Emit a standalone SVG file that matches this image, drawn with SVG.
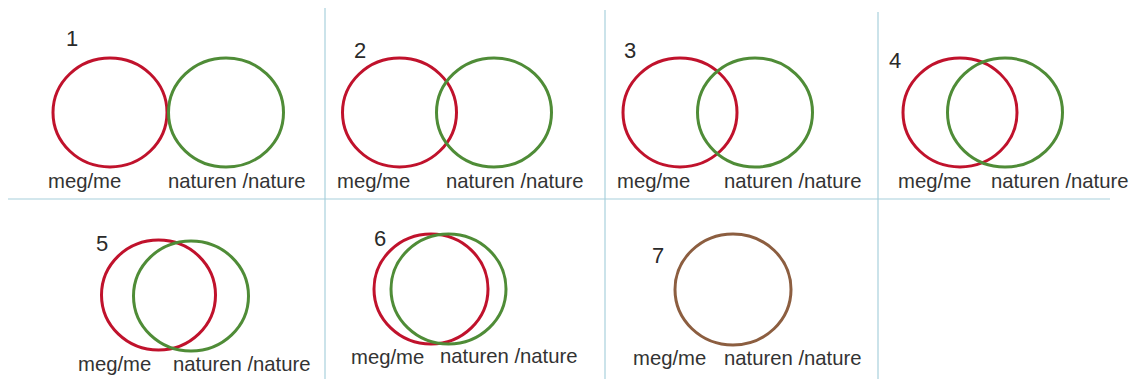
<svg xmlns="http://www.w3.org/2000/svg" width="1136" height="379" viewBox="0 0 1136 379">
  <style>
    .grid { stroke: #a8d0dc; stroke-width: 1.2; fill: none; }
    .me { fill: none; stroke: #c0122c; stroke-width: 3; }
    .nature { fill: none; stroke: #4f8c37; stroke-width: 3; }
    .both { fill: none; stroke: #8c5e40; stroke-width: 3; }
    .num { font-family: "Liberation Sans", Arial, sans-serif; font-size: 22px; fill: #2a2a2a; }
    .lbl { font-family: "Liberation Sans", Arial, sans-serif; font-size: 20.3px; fill: #333333; }
  </style>
  <rect width="1136" height="379" fill="#ffffff"/>

  <!-- table grid -->
  <g id="grid">
    <line class="grid" x1="8" y1="199" x2="1110" y2="199"/>
    <line class="grid" x1="325" y1="8" x2="325" y2="379"/>
    <line class="grid" x1="605" y1="10" x2="605" y2="379"/>
    <line class="grid" x1="878" y1="12" x2="878" y2="379"/>
  </g>

  <g id="connectors"></g>

  <!-- 1: separate -->
  <g id="panel1">
    <text class="num" x="66" y="46">1</text>
    <ellipse class="me" cx="110" cy="112.5" rx="57" ry="54.5"/>
    <ellipse class="nature" cx="226" cy="112.5" rx="57.5" ry="54.5"/>
    <text class="lbl" x="48" y="188">meg/me</text>
    <text class="lbl" x="168" y="188">naturen /nature</text>
  </g>

  <!-- 2: touching overlap -->
  <g id="panel2">
    <text class="num" x="354" y="58">2</text>
    <ellipse class="me" cx="399.5" cy="112.5" rx="57" ry="54.5"/>
    <ellipse class="nature" cx="494" cy="112.5" rx="57.5" ry="54.5"/>
    <text class="lbl" x="337" y="188">meg/me</text>
    <text class="lbl" x="446" y="188">naturen /nature</text>
  </g>

  <!-- 3: small overlap -->
  <g id="panel3">
    <text class="num" x="624" y="58">3</text>
    <ellipse class="me" cx="680" cy="112.5" rx="57" ry="54.5"/>
    <ellipse class="nature" cx="755" cy="112.5" rx="57.5" ry="54.5"/>
    <text class="lbl" x="617" y="188">meg/me</text>
    <text class="lbl" x="724" y="188">naturen /nature</text>
  </g>

  <!-- 4: medium overlap -->
  <g id="panel4">
    <text class="num" x="889" y="68">4</text>
    <ellipse class="me" cx="960" cy="112.5" rx="57" ry="54.5"/>
    <ellipse class="nature" cx="1005" cy="112.5" rx="57.5" ry="54.5"/>
    <text class="lbl" x="898" y="188">meg/me</text>
    <text class="lbl" x="991" y="188">naturen /nature</text>
  </g>

  <!-- 5: large overlap -->
  <g id="panel5">
    <text class="num" x="96" y="251">5</text>
    <ellipse class="me" cx="158.5" cy="295" rx="57" ry="55"/>
    <ellipse class="nature" cx="191" cy="296" rx="57.5" ry="55"/>
    <text class="lbl" x="78" y="371">meg/me</text>
    <text class="lbl" x="173" y="371">naturen /nature</text>
  </g>

  <!-- 6: almost complete overlap -->
  <g id="panel6">
    <text class="num" x="374" y="246">6</text>
    <ellipse class="me" cx="431" cy="289" rx="57" ry="55"/>
    <ellipse class="nature" cx="448.5" cy="289" rx="57.5" ry="55"/>
    <text class="lbl" x="351" y="364">meg/me</text>
    <text class="lbl" x="440" y="363">naturen /nature</text>
  </g>

  <!-- 7: complete overlap -->
  <g id="panel7">
    <text class="num" x="652" y="263">7</text>
    <ellipse class="both" cx="733" cy="289.5" rx="58" ry="55.5"/>
    <text class="lbl" x="633" y="365">meg/me</text>
    <text class="lbl" x="724" y="365">naturen /nature</text>
  </g>
</svg>
